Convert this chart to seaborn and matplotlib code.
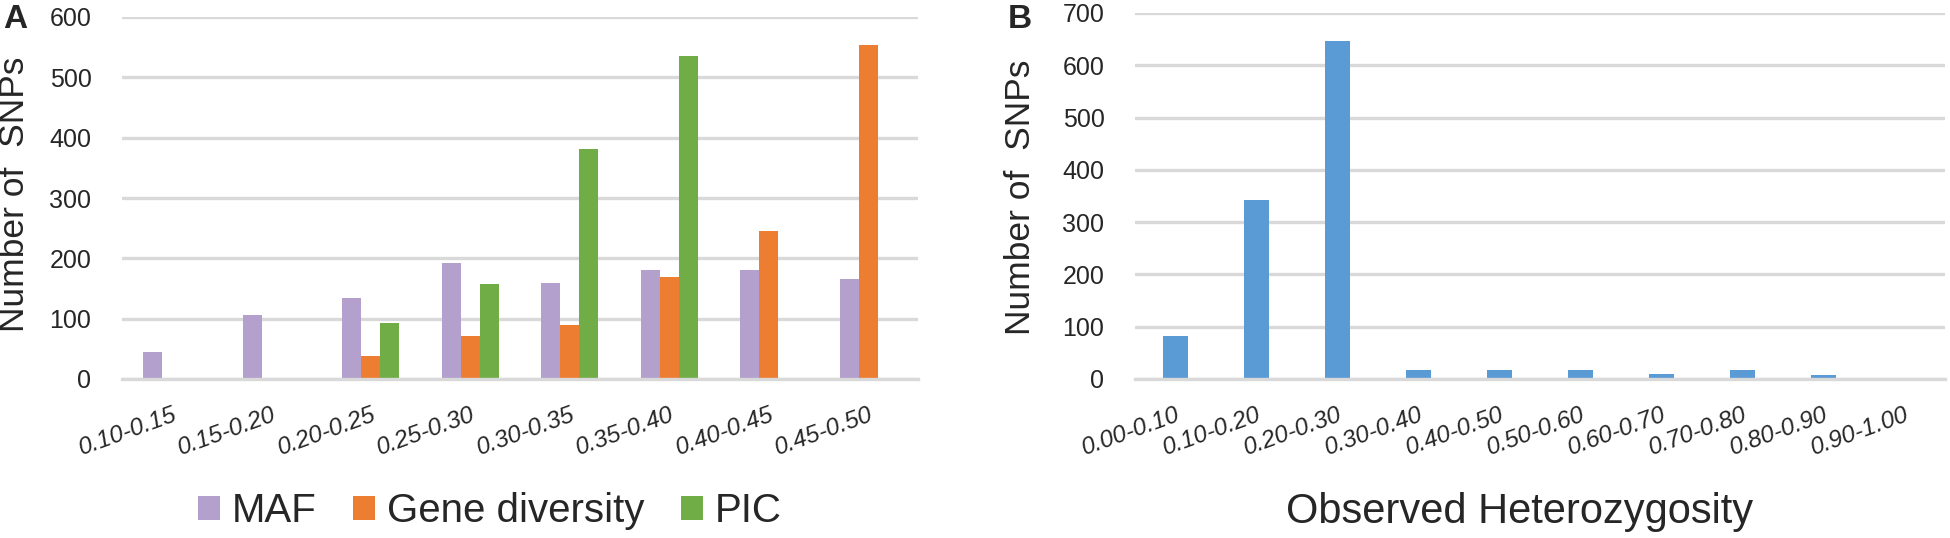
import matplotlib
matplotlib.use('Agg')
import matplotlib.pyplot as plt
import seaborn as sns
import pandas as pd
import numpy as np

# panel A: distributions of MAF, gene diversity and PIC
a_bins = ['0.10-0.15', '0.15-0.20', '0.20-0.25', '0.25-0.30',
          '0.30-0.35', '0.35-0.40', '0.40-0.45', '0.45-0.50']
maf = [45, 106, 135, 192, 159, 181, 181, 165]
gene_div = [0, 0, 38, 72, 89, 169, 246, 553]
pic = [0, 0, 93, 157, 381, 535, 0, 0]
a_series = ['MAF', 'Gene diversity', 'PIC']
a_colors = ['#B4A0CC', '#ED7D31', '#70AD47']

# panel B: observed heterozygosity
b_bins = ['0.00-0.10', '0.10-0.20', '0.20-0.30', '0.30-0.40', '0.40-0.50',
          '0.50-0.60', '0.60-0.70', '0.70-0.80', '0.80-0.90', '0.90-1.00']
het = [83, 343, 646, 17, 17, 17, 10, 17, 8, 0]
b_color = '#5B9BD5'

sns.set_style('white')
plt.rcParams['font.family'] = ['Liberation Sans', 'DejaVu Sans']

W, H = 1950, 538
grid_c = '#D9D9D9'

fig = plt.figure(figsize=(W / 100, H / 100), dpi=100)
ax1 = fig.add_axes([122 / W, 1 - 379 / H, 796 / W, 362 / H])
ax2 = fig.add_axes([1135 / W, 1 - 379 / H, 810 / W, 366 / H])

df_a = pd.DataFrame({
    'bin': a_bins * 3,
    'count': maf + gene_div + pic,
    'index': [a_series[0]] * 8 + [a_series[1]] * 8 + [a_series[2]] * 8,
})
sns.barplot(data=df_a, x='bin', y='count', hue='index', palette=a_colors,
            width=0.57, gap=0, saturation=1, linewidth=0, ax=ax1)
handles, labels = ax1.get_legend_handles_labels()
ax1.legend_.remove()

sns.barplot(x=b_bins, y=het, color=b_color, width=0.32, saturation=1,
            linewidth=0, ax=ax2)


def style_axis(ax, bins, ymax):
    n = len(bins)
    ax.set_xlim(-0.5, n - 0.5)
    ax.set_ylim(0, ymax)
    ax.set_yticks(range(0, ymax + 1, 100))
    ax.set_xticks(range(n))
    ax.set_xticklabels(bins, rotation=20, ha='right', rotation_mode='anchor',
                       fontstyle='italic')
    ax.set_xticks(np.arange(-0.5, n, 1), minor=True)
    ax.tick_params(axis='x', which='major', length=0, pad=17, labelsize=17.5)
    ax.tick_params(axis='x', which='minor', length=5.5, width=2, color=grid_c)
    ax.tick_params(axis='y', length=0, pad=22, labelsize=18)
    ax.grid(axis='y', color=grid_c, lw=2.4)
    ax.set_axisbelow(True)
    for s in ['left', 'top', 'right']:
        ax.spines[s].set_visible(False)
    ax.spines['bottom'].set_color(grid_c)
    ax.spines['bottom'].set_linewidth(2.4)
    ax.set_xlabel('')
    ax.set_ylabel('')


style_axis(ax1, a_bins, 600)
style_axis(ax2, b_bins, 700)

fig.legend(handles, labels, loc='center', bbox_to_anchor=(490 / W, 1 - 511 / H),
           ncol=3, frameon=False, fontsize=29, handlelength=0.55,
           handleheight=0.55, handletextpad=0.3, columnspacing=0.9)

fig.text(15 / W, 1 - 194 / H, 'Number of  SNPs', rotation=90,
         ha='center', va='center', fontsize=25.5)
fig.text(1020 / W, 1 - 197 / H, 'Number of  SNPs', rotation=90,
         ha='center', va='center', fontsize=25.5)
fig.text(1520 / W, 1 - 523 / H, 'Observed Heterozygosity',
         ha='center', va='baseline', fontsize=30)

fig.text(15 / W, 1 - 20 / H, 'A', fontsize=24, fontweight='bold',
         ha='center', va='center')
fig.text(1020 / W, 1 - 20 / H, 'B', fontsize=24, fontweight='bold',
         ha='center', va='center')

fig.savefig('out.png', dpi=100)
